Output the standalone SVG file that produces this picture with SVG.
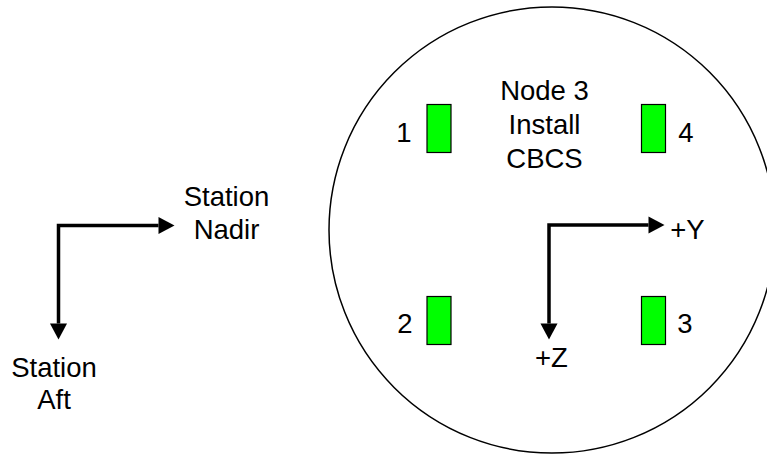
<svg xmlns="http://www.w3.org/2000/svg" width="767" height="454" viewBox="0 0 767 454">
<style>
  text { font-family: "Liberation Sans", Arial, sans-serif; font-size: 27.5px; fill: #000; text-anchor: middle; }
  .axis { fill: none; stroke: #000; stroke-width: 3.5; stroke-linejoin: miter; stroke-linecap: butt; marker-start: url(#arr); marker-end: url(#arr); }
  .cbcs { fill: #00ff00; stroke: #000; stroke-width: 1.2; }
</style>
<defs>
  <marker id="arr" markerUnits="userSpaceOnUse" markerWidth="16" markerHeight="18" viewBox="0 -8 15 16" refX="0" refY="0" orient="auto-start-reverse" overflow="visible">
    <path d="M0,-8 L15,0 L0,8 Z" fill="#000"/>
  </marker>
</defs>
<rect width="767" height="454" fill="#fff"/>
<g id="node3">
  <circle cx="552" cy="230" r="223" fill="none" stroke="#000" stroke-width="1.5"/>
  <text x="544.5" y="100">Node 3</text>
  <text x="544.5" y="134">Install</text>
  <text x="544.5" y="167.5">CBCS</text>
</g>
<g id="cbcs1">
  <rect class="cbcs" x="427" y="104.5" width="24" height="48"/>
  <text x="404" y="141.5">1</text>
</g>
<g id="cbcs4">
  <rect class="cbcs" x="641.5" y="104.5" width="24" height="48"/>
  <text x="686" y="141.5">4</text>
</g>
<g id="cbcs2">
  <rect class="cbcs" x="427" y="296.5" width="24" height="48"/>
  <text x="405" y="333">2</text>
</g>
<g id="cbcs3">
  <rect class="cbcs" x="641.5" y="296.5" width="24" height="48"/>
  <text x="685" y="333">3</text>
</g>
<g id="station-labels">
  <text x="226.5" y="206">Station</text>
  <text x="226.5" y="239">Nadir</text>
  <text x="54" y="376.5">Station</text>
  <text x="54" y="408.5">Aft</text>
</g>
<g id="node-axes-labels">
  <text x="687.5" y="238.5">+Y</text>
  <text x="551.5" y="366.5">+Z</text>
</g>
<g id="connectors">
  <polyline class="axis" points="58.5,323.5 58.5,225.5 158.5,225.5"/>
  <polyline class="axis" points="549,323.5 549,225 648.5,225"/>
</g>
</svg>
